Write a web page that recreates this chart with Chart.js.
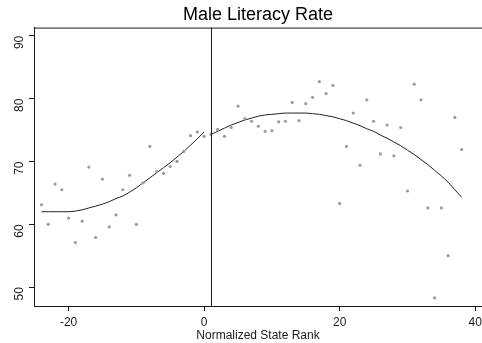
<!DOCTYPE html>
<html>
<head>
<meta charset="utf-8">
<script src="https://cdn.jsdelivr.net/npm/chart.js@4/dist/chart.umd.min.js"></script>
<style>
    html, body { margin: 0; padding: 0; background: #ffffff; }
    #wrap { width: 482px; height: 343px; position: relative; }
</style>
</head>
<body>
<div id="wrap"><canvas id="literacyChart"></canvas></div>
<script>
    "use strict";

    // scatter: normalized state rank vs male literacy rate
    var rankValues = [
        -24, -23, -22, -21, -20, -19, -18, -17, -16, -15, -14, -13, -12, -11, -10,
        -9, -8, -7, -6, -5, -4, -3, -2, -1, 0,
        1, 2, 3, 4, 5, 6, 7, 8, 9, 10, 11, 12, 13, 14, 15, 16, 17, 18, 19,
        20, 21, 22, 23, 24, 25, 26, 27, 28, 29, 30, 31, 32, 33, 34, 35, 36, 37, 38
    ];
    var literacyValues = [
        63.1, 60.0, 66.4, 65.5, 61.0, 57.1, 60.5, 69.1, 57.9, 67.2, 59.6, 61.5, 65.5, 67.8, 60.0,
        66.6, 72.4, 68.4, 68.1, 69.2, 70.0, 71.6, 74.1, 74.7, 74.0,
        74.3, 75.1, 74.0, 75.4, 78.8, 76.8, 76.4, 75.6, 74.8, 74.9, 76.3, 76.4, 79.4, 76.5, 79.2, 80.2, 82.7, 80.8, 82.1,
        63.3, 72.4, 77.7, 69.4, 79.8, 76.4, 71.2, 75.8, 70.9, 75.4, 65.3, 82.3, 79.8, 62.6, 48.3, 62.6, 55.0, 77.0, 71.9
    ];

    // fitted curve left of the cutoff
    var leftFitRank = [-24, -23, -22, -21, -20, -19, -18, -17, -16, -15, -14, -13, -12,
        -11, -10, -9, -8, -7, -6, -5, -4, -3, -2, -1, 0];
    var leftFitValues = [62.0, 62.0, 62.0, 62.0, 62.0, 62.1, 62.3, 62.6, 62.9, 63.2, 63.6, 64.1, 64.5,
        65.1, 65.8, 66.6, 67.4, 68.2, 69.0, 69.8, 70.7, 71.6, 72.6, 73.6, 74.7];

    // fitted curve right of the cutoff
    var rightFitRank = [1, 2, 3, 4, 5, 6, 7, 8, 9, 10, 11, 12, 13, 14, 15, 16, 17, 18, 19,
        20, 21, 22, 23, 24, 25, 26, 27, 28, 29, 30, 31, 32, 33, 34, 35, 36, 37, 38];
    var rightFitValues = [74.3, 74.8, 75.3, 75.8, 76.2, 76.6, 76.9, 77.2, 77.4, 77.5, 77.6, 77.7, 77.7, 77.7, 77.7, 77.6, 77.5, 77.3, 77.1,
        76.8, 76.5, 76.1, 75.7, 75.2, 74.8, 74.2, 73.7, 73.1, 72.5, 71.8, 71.1, 70.3, 69.5, 68.6, 67.7, 66.7, 65.5, 64.3];

    var cutoffRank = 1;
    var xTicks = [-20, 0, 20, 40];
    var yTicks = [50, 60, 70, 80, 90];

    function toPoints(xs, ys) {
        return xs.map(function(x, i) {
            return { x: x, y: ys[i] };
        });
    }

    // top frame line plus the vertical cutoff line
    var frameLines = {
        id: "frameLines",
        afterDatasetsDraw: function(chart) {
            var ctx = chart.ctx;
            var area = chart.chartArea;
            var xPos = chart.scales.x.getPixelForValue(cutoffRank);

            ctx.save();
            ctx.strokeStyle = "#1a1a1a";
            ctx.lineWidth = 1;
            ctx.beginPath();
            ctx.moveTo(area.left, area.top + 0.5);
            ctx.lineTo(area.right, area.top + 0.5);
            ctx.moveTo(Math.round(xPos) + 0.5, area.top);
            ctx.lineTo(Math.round(xPos) + 0.5, area.bottom);
            ctx.stroke();
            ctx.restore();
        }
    };

    var fontFamily = "'Liberation Sans', Arial, sans-serif";

    new Chart(document.getElementById("literacyChart"), {
        type: "scatter",
        data: {
            datasets: [{
                    data: toPoints(rankValues, literacyValues),
                    pointRadius: 1.6,
                    pointBackgroundColor: "#9c9c9c",
                    pointBorderWidth: 0,
                    showLine: false
                },
                {
                    data: toPoints(leftFitRank, leftFitValues),
                    showLine: true,
                    borderColor: "#222222",
                    borderWidth: 1,
                    pointRadius: 0,
                    cubicInterpolationMode: "monotone"
                },
                {
                    data: toPoints(rightFitRank, rightFitValues),
                    showLine: true,
                    borderColor: "#222222",
                    borderWidth: 1,
                    pointRadius: 0,
                    cubicInterpolationMode: "monotone"
                }
            ]
        },
        options: {
            responsive: true,
            maintainAspectRatio: false,
            animation: false,
            layout: { padding: 0, autoPadding: false },
            plugins: {
                legend: { display: false },
                tooltip: { enabled: false },
                title: {
                    display: true,
                    fullSize: false,
                    text: "Male Literacy Rate",
                    color: "#000000",
                    font: { family: fontFamily, size: 18, weight: "normal", lineHeight: 1.2 },
                    padding: { top: 4, bottom: 2 }
                }
            },
            scales: {
                x: {
                    type: "linear",
                    min: -25.1,
                    max: 41,
                    afterBuildTicks: function(scale) {
                        scale.ticks = xTicks.map(function(v) { return { value: v }; });
                    },
                    afterFit: function(scale) {
                        scale.height = 37;
                        scale.paddingLeft = 0;
                        scale.paddingRight = 0;
                    },
                    grid: {
                        display: true,
                        drawOnChartArea: false,
                        drawTicks: true,
                        tickLength: 5,
                        color: "#1a1a1a"
                    },
                    border: { display: true, color: "#1a1a1a", width: 1 },
                    ticks: {
                        color: "#1a1a1a",
                        padding: 4,
                        maxRotation: 0,
                        font: { family: fontFamily, size: 12 }
                    },
                    title: {
                        display: true,
                        text: "Normalized State Rank",
                        color: "#1a1a1a",
                        padding: 0,
                        font: { family: fontFamily, size: 12 }
                    }
                },
                y: {
                    type: "linear",
                    min: 47,
                    max: 91.3,
                    afterBuildTicks: function(scale) {
                        scale.ticks = yTicks.map(function(v) { return { value: v }; });
                    },
                    afterFit: function(scale) {
                        scale.width = 34;
                        scale.paddingTop = 0;
                        scale.paddingBottom = 0;
                    },
                    grid: {
                        display: true,
                        drawOnChartArea: false,
                        drawTicks: true,
                        tickLength: 5,
                        color: "#1a1a1a"
                    },
                    border: { display: true, color: "#1a1a1a", width: 1 },
                    ticks: {
                        color: "#1a1a1a",
                        padding: 9,
                        minRotation: 90,
                        maxRotation: 90,
                        font: { family: fontFamily, size: 12 }
                    }
                }
            }
        },
        plugins: [frameLines]
    });
</script>
</body>
</html>
